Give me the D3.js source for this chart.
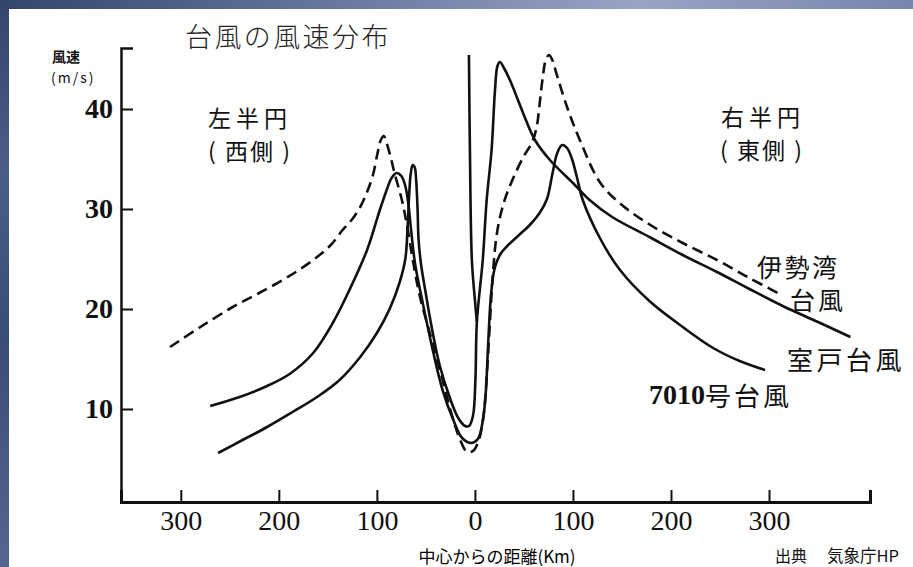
<!DOCTYPE html>
<html><head><meta charset="utf-8">
<script src="https://cdn.jsdelivr.net/npm/d3@7"></script>
<style>
html,body{margin:0;padding:0;background:#fff;}
svg{display:block;}
</style></head>
<body>
<svg id="c" width="913" height="567"></svg>
<script>
// ---- data (distance from centre in km, negative = west/left; wind speed m/s) ----
const isewan = [[-311,16.2],[-280,18.2],[-247,20.2],[-220,21.6],[-196,22.9],[-178,24],[-161,25.2],[-147,26.4],[-135,27.9],[-125,29],[-117,30.2],[-110,31.7],[-104,33.4],[-99.5,35.5],[-96,36.9],[-93,37.3],[-90,36.6],[-86,35.2],[-82,33.6],[-74.5,30.9],[-69,28.2],[-63,24.7],[-56,21.2],[-44,16.9],[-33,12.9],[-23.5,9.4],[-15,6.9],[-8,5.7],[-2,5.8],[4,6.9],[9,9.5],[12.5,14],[15.5,19],[18,23],[22.5,27.6],[30,30.8],[40,33.3],[50,35.3],[58,36.6],[63,38.2],[66,40.5],[69,43],[72,44.8],[75.5,45.4],[79,44.9],[83,43.6],[94,40.2],[107,36.9],[128,32.6],[150,30.4],[179,28.4],[212,26.6],[247,24.9],[280,23.1],[311,21.5]];
const muroto = [[-262,5.6],[-237,6.9],[-212,8.2],[-186,9.7],[-161,11.2],[-138,12.9],[-117,15.2],[-100,17.6],[-87,20.0],[-77,22.6],[-71,25],[-68.5,28.5],[-67,31.5],[-65.5,33.5],[-63.5,34.4],[-61.5,34.2],[-60,33],[-58.5,30],[-57.5,27],[-55,24.5],[-50,21.5],[-46,19.2],[-36,14.4],[-25.5,11.1],[-17,9.1],[-10,8.3],[-6,8.3],[-2,9.3],[0.5,12.9],[2,18.7],[8,24.9],[12,30.9],[17,35.9],[20.5,41.9],[23,44.3],[25.5,44.7],[29.6,44.1],[35.7,42.9],[43.9,40.9],[52,38.9],[61.2,36.9],[76.5,34.9],[100,32.6],[117,30.9],[140,29.2],[178,27.2],[212,25.4],[247,23.7],[280,22.0],[314,20.3],[350,18.7],[383,17.2]];
const murotoOffScale = [[-6.1,45.4],[-5.1,35.9],[-3.1,24.9],[0,20.9],[2,18.7]];
const t7010 = [[-270,10.3],[-240,11.2],[-212,12.3],[-189,13.5],[-165,15.6],[-145,18.6],[-128,21.9],[-110,25.9],[-97,29.9],[-90,31.9],[-85,33.1],[-80,33.6],[-75,33.3],[-71,32.3],[-68,30.6],[-65,27.8],[-61,24.5],[-53,20.5],[-43,15.9],[-33,11.9],[-22,8.9],[-13,7.1],[-4,6.6],[3,7.0],[8,8.8],[11,11.5],[13.5,16.5],[16.5,21.5],[20,24],[26,25.5],[33,26.3],[45,27.4],[56,28.4],[66,29.6],[73.5,31],[79,33.5],[84,35.6],[89,36.4],[94,36.1],[99,35],[104,33.2],[110,30.9],[128,27.0],[148,23.9],[178,20.8],[212,18.2],[243,16.1],[270,14.8],[296,13.9]];

const xTicks = [-300,-200,-100,0,100,200,300];
const yTicks = [10,20,30,40];
const xDomain = [-361, 403];
const yDomain = [0.7, 46.1];

const svg = d3.select("#c");
const W = 913, H = 567;
const JP = "'Noto Sans CJK JP','Noto Sans',sans-serif";
const SERIF = "'Liberation Serif','DejaVu Serif',serif";

// background frame
const defs = svg.append("defs");
const gTop = defs.append("linearGradient").attr("id","gtop").attr("x1","0").attr("x2","1").attr("y1","0").attr("y2","0");
[["0","#33456b"],["0.25","#56678f"],["0.5","#7d89ae"],["0.7","#9aa3c4"],["1","#7885ad"]].forEach(s=>gTop.append("stop").attr("offset",s[0]).attr("stop-color",s[1]));
const gLeft = defs.append("linearGradient").attr("id","gleft").attr("x1","0").attr("x2","0").attr("y1","0").attr("y2","1");
[["0","#33456b"],["0.3","#4a5d86"],["0.6","#3a4d77"],["1","#55668e"]].forEach(s=>gLeft.append("stop").attr("offset",s[0]).attr("stop-color",s[1]));
svg.append("rect").attr("x",0).attr("y",0).attr("width",W).attr("height",H).attr("fill","#fff");
svg.append("rect").attr("x",0).attr("y",0).attr("width",W).attr("height",9).attr("fill","url(#gtop)");
svg.append("rect").attr("x",0).attr("y",0).attr("width",9).attr("height",H).attr("fill","url(#gleft)");

const x = d3.scaleLinear().domain(xDomain).range([121, 870]);
const y = d3.scaleLinear().domain(yDomain).range([502, 48]);

// axes
const xAxis = d3.axisBottom(x).tickValues(xTicks).tickSize(-12).tickPadding(7)
  .tickFormat(d => Math.abs(d));
const gx = svg.append("g").attr("transform",`translate(0,${y(yDomain[0])})`).call(xAxis);
gx.select(".domain").attr("stroke","#111").attr("stroke-width",3);
gx.selectAll(".tick line").attr("stroke","#111").attr("stroke-width",2);
gx.selectAll(".tick text").style("font-family",SERIF).style("font-size","28px").attr("fill","#111").attr("dy","0.75em");

const yAxis = d3.axisLeft(y).tickValues(yTicks).tickSize(-12).tickPadding(8);
const gy = svg.append("g").attr("transform",`translate(${x(xDomain[0])},0)`).call(yAxis);
gy.select(".domain").attr("stroke","#111").attr("stroke-width",2.5);
gy.selectAll(".tick line").attr("stroke","#111").attr("stroke-width",2);
gy.selectAll(".tick text").style("font-family",SERIF).style("font-size","28px").style("font-weight","bold").attr("fill","#111");

// lines
const line = d3.line().x(d=>x(d[0])).y(d=>y(d[1])).curve(d3.curveCatmullRom.alpha(0.5));
const series = [
  {data: isewan, dash: "11,6"},
  {data: muroto, dash: null},
  {data: murotoOffScale, dash: null},
  {data: t7010, dash: null}
];
svg.append("g").selectAll("path").data(series).join("path")
  .attr("d", s => line(s.data))
  .attr("fill","none").attr("stroke","#111").attr("stroke-width",2.6)
  .attr("stroke-linejoin","round").attr("stroke-linecap","butt")
  .attr("stroke-dasharray", s => s.dash);

// texts
function txt(t, px, py, size, opts={}) {
  return svg.append("text").attr("x",px).attr("y",py).text(t)
    .attr("font-family", opts.family || JP).attr("font-size", size)
    .attr("font-weight", opts.weight || "normal")
    .attr("text-anchor", opts.anchor || "start")
    .attr("dominant-baseline","central")
    .attr("letter-spacing", opts.ls || 0)
    .attr("fill", opts.fill || "#111")
    .style("white-space","pre");
}
txt("台風の風速分布", 185, 35, 27, {ls: 2.4, fill:"#222", weight:300});
txt("風速", 52, 56, 14, {weight:"bold"});
txt("(m/s)", 51, 77, 14, {ls:2});
txt("左半円", 250, 117, 23, {anchor:"middle", ls:5});
txt("( 西側 )", 250, 150, 23, {anchor:"middle", ls:2});
txt("右半円", 763, 116, 23, {anchor:"middle", ls:5});
txt("( 東側 )", 762, 149, 23, {anchor:"middle", ls:2});
txt("伊勢湾", 757, 266, 25, {ls:2.5});
txt("台風", 790, 299, 25, {ls:3});
txt("室戸台風", 787, 358, 26, {ls:3.5});
const t7 = svg.append("text").attr("x",649).attr("y",394).attr("dominant-baseline","central").attr("fill","#111");
t7.append("tspan").text("7010").attr("font-family",SERIF).attr("font-weight","bold").attr("font-size",28);
t7.append("tspan").text("号台風").attr("font-family",JP).attr("font-size",26).attr("letter-spacing",3);
txt("中心からの距離(Km)", 497, 555, 17, {anchor:"middle", fill:"#000"});
txt("出典", 775, 555, 16);
txt("気象庁HP", 827, 555, 16.5);
</script>
</body></html>
